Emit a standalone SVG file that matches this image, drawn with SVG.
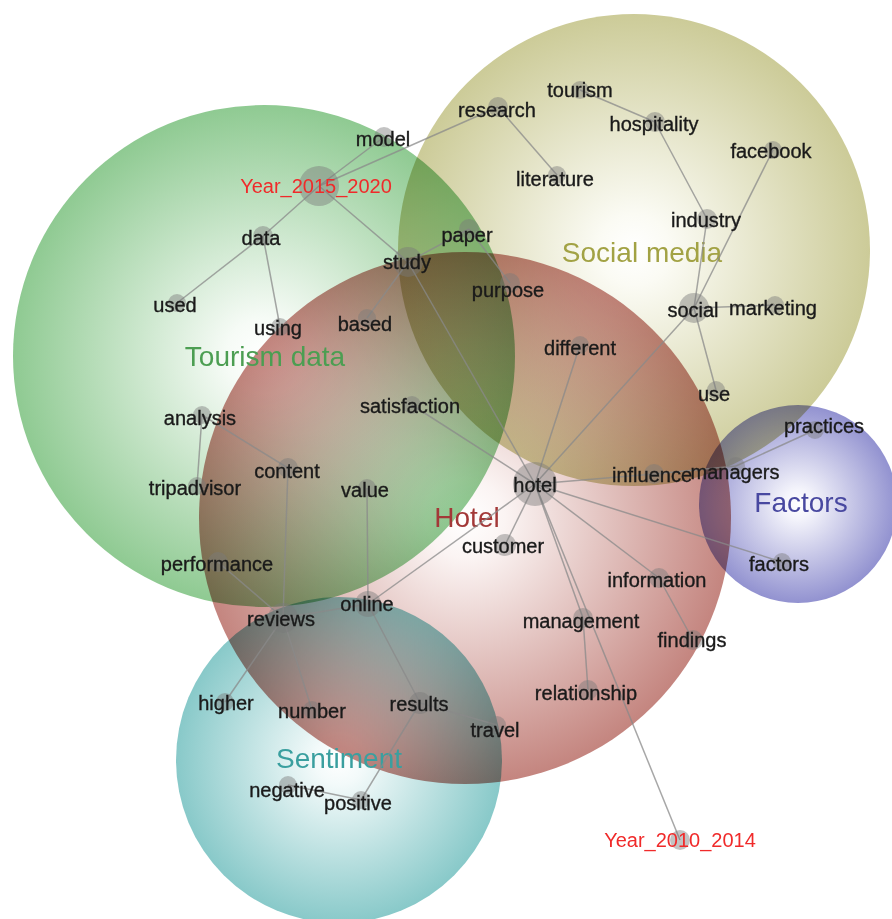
<svg xmlns="http://www.w3.org/2000/svg" width="892" height="919" viewBox="0 0 892 919">
<defs>
<radialGradient id="gGreen"><stop offset="0" stop-color="#ffffff"/><stop offset="0.15" stop-color="#f6fbf6"/><stop offset="1" stop-color="#8fca92"/></radialGradient>
<radialGradient id="gOlive"><stop offset="0" stop-color="#ffffff"/><stop offset="0.15" stop-color="#fbfbf4"/><stop offset="1" stop-color="#cccb98"/></radialGradient>
<radialGradient id="gRed"><stop offset="0" stop-color="#ffffff"/><stop offset="0.15" stop-color="#fbf4f3"/><stop offset="1" stop-color="#c4857f"/></radialGradient>
<radialGradient id="gTeal"><stop offset="0" stop-color="#ffffff"/><stop offset="0.15" stop-color="#f3fafa"/><stop offset="1" stop-color="#88c9c9"/></radialGradient>
<radialGradient id="gBlue"><stop offset="0" stop-color="#ffffff"/><stop offset="0.15" stop-color="#f4f4fb"/><stop offset="1" stop-color="#9292d0"/></radialGradient>
<style>
.cl{mix-blend-mode:multiply}
.e line{stroke:#8a8a8a;stroke-width:1.5;stroke-opacity:0.75}
.n circle{fill:#7a7a7a;fill-opacity:0.45}
.n text{font-family:"Liberation Sans",Arial,sans-serif;font-size:20px;fill:#1a1a1a;stroke:#1a1a1a;stroke-width:0.35;text-anchor:middle}
.n text.yr{fill:#f02a2a;stroke:none;font-size:20px}
.g{font-family:"Liberation Sans",Arial,sans-serif;font-size:28px;text-anchor:middle}
</style>
</defs>
<rect width="892" height="919" fill="#ffffff"/>
<g id="clusters">
<circle class="cl" cx="264" cy="356" r="251" fill="url(#gGreen)"/>
<circle class="cl" cx="634" cy="250" r="236" fill="url(#gOlive)"/>
<circle class="cl" cx="465" cy="518" r="266" fill="url(#gRed)"/>
<circle class="cl" cx="339" cy="760" r="163" fill="url(#gTeal)"/>
<circle class="cl" cx="798" cy="504" r="99" fill="url(#gBlue)"/>
</g>
<g id="cluster-labels">
<text class="g" x="265" y="366" fill="#4c9e52">Tourism data</text>
<text class="g" x="642" y="262" fill="#a2a244">Social media</text>
<text class="g" x="467" y="527" fill="#a33838">Hotel</text>
<text class="g" x="801" y="512" fill="#4848a0">Factors</text>
<text class="g" x="339" y="768" fill="#3a9f9f">Sentiment</text>
</g>
<g id="connectors" class="e">
<line x1="319" y1="186" x2="384" y2="137"/>
<line x1="319" y1="186" x2="498" y2="107"/>
<line x1="319" y1="186" x2="263" y2="236"/>
<line x1="319" y1="186" x2="408" y2="262"/>
<line x1="498" y1="107" x2="557" y2="175"/>
<line x1="580" y1="90" x2="655" y2="122"/>
<line x1="655" y1="122" x2="707" y2="219"/>
<line x1="707" y1="219" x2="694" y2="308"/>
<line x1="773" y1="150" x2="694" y2="308"/>
<line x1="694" y1="308" x2="775" y2="305"/>
<line x1="694" y1="308" x2="716" y2="390"/>
<line x1="694" y1="308" x2="535" y2="484"/>
<line x1="263" y1="236" x2="177" y2="303"/>
<line x1="263" y1="236" x2="280" y2="327"/>
<line x1="408" y1="262" x2="469" y2="229"/>
<line x1="469" y1="229" x2="510" y2="283"/>
<line x1="408" y1="262" x2="367" y2="318"/>
<line x1="408" y1="262" x2="535" y2="484"/>
<line x1="412" y1="405" x2="535" y2="484"/>
<line x1="580" y1="345" x2="535" y2="484"/>
<line x1="535" y1="484" x2="654" y2="474"/>
<line x1="654" y1="474" x2="736" y2="466"/>
<line x1="736" y1="466" x2="815" y2="430"/>
<line x1="535" y1="484" x2="782" y2="562"/>
<line x1="535" y1="484" x2="659" y2="578"/>
<line x1="659" y1="578" x2="693" y2="640"/>
<line x1="535" y1="484" x2="583" y2="618"/>
<line x1="583" y1="618" x2="588" y2="690"/>
<line x1="535" y1="484" x2="680" y2="840"/>
<line x1="535" y1="484" x2="505" y2="545"/>
<line x1="535" y1="484" x2="368" y2="604"/>
<line x1="367" y1="488" x2="368" y2="604"/>
<line x1="288" y1="468" x2="283" y2="618"/>
<line x1="202" y1="415" x2="288" y2="468"/>
<line x1="202" y1="415" x2="197" y2="486"/>
<line x1="218" y1="562" x2="283" y2="618"/>
<line x1="283" y1="618" x2="368" y2="604"/>
<line x1="283" y1="618" x2="225" y2="702"/>
<line x1="283" y1="618" x2="312" y2="710"/>
<line x1="368" y1="604" x2="420" y2="703"/>
<line x1="420" y1="703" x2="497" y2="725"/>
<line x1="420" y1="703" x2="361" y2="800"/>
<line x1="288" y1="785" x2="361" y2="800"/>
</g>
<g id="n-year2015" class="n"><circle cx="319" cy="186" r="20"/><text class="yr" x="316" y="193">Year_2015_2020</text></g>
<g id="n-model" class="n"><circle cx="384" cy="137" r="10"/><text x="383" y="146">model</text></g>
<g id="n-research" class="n"><circle cx="498" cy="107" r="10"/><text x="497" y="117">research</text></g>
<g id="n-data" class="n"><circle cx="263" cy="236" r="10"/><text x="261" y="245">data</text></g>
<g id="n-used" class="n"><circle cx="177" cy="303" r="9"/><text x="175" y="312">used</text></g>
<g id="n-using" class="n"><circle cx="280" cy="327" r="9"/><text x="278" y="335">using</text></g>
<g id="n-study" class="n"><circle cx="408" cy="262" r="15"/><text x="407" y="269">study</text></g>
<g id="n-paper" class="n"><circle cx="469" cy="229" r="10"/><text x="467" y="242">paper</text></g>
<g id="n-purpose" class="n"><circle cx="510" cy="283" r="10"/><text x="508" y="297">purpose</text></g>
<g id="n-based" class="n"><circle cx="367" cy="318" r="9"/><text x="365" y="331">based</text></g>
<g id="n-tourism" class="n"><circle cx="580" cy="90" r="9"/><text x="580" y="97">tourism</text></g>
<g id="n-hospitality" class="n"><circle cx="655" cy="122" r="10"/><text x="654" y="131">hospitality</text></g>
<g id="n-literature" class="n"><circle cx="557" cy="175" r="9"/><text x="555" y="186">literature</text></g>
<g id="n-facebook" class="n"><circle cx="773" cy="150" r="9"/><text x="771" y="158">facebook</text></g>
<g id="n-industry" class="n"><circle cx="707" cy="219" r="10"/><text x="706" y="227">industry</text></g>
<g id="n-social" class="n"><circle cx="694" cy="308" r="15"/><text x="693" y="317">social</text></g>
<g id="n-marketing" class="n"><circle cx="775" cy="305" r="9"/><text x="773" y="315">marketing</text></g>
<g id="n-different" class="n"><circle cx="580" cy="345" r="9"/><text x="580" y="355">different</text></g>
<g id="n-use" class="n"><circle cx="716" cy="390" r="9"/><text x="714" y="401">use</text></g>
<g id="n-satisfaction" class="n"><circle cx="412" cy="405" r="9"/><text x="410" y="413">satisfaction</text></g>
<g id="n-analysis" class="n"><circle cx="202" cy="415" r="9"/><text x="200" y="425">analysis</text></g>
<g id="n-content" class="n"><circle cx="288" cy="468" r="10"/><text x="287" y="478">content</text></g>
<g id="n-tripadvisor" class="n"><circle cx="197" cy="486" r="9"/><text x="195" y="495">tripadvisor</text></g>
<g id="n-value" class="n"><circle cx="367" cy="488" r="9"/><text x="365" y="497">value</text></g>
<g id="n-hotel" class="n"><circle cx="535" cy="484" r="22"/><text x="535" y="492">hotel</text></g>
<g id="n-customer" class="n"><circle cx="505" cy="545" r="11"/><text x="503" y="553">customer</text></g>
<g id="n-performance" class="n"><circle cx="218" cy="562" r="10"/><text x="217" y="571">performance</text></g>
<g id="n-online" class="n"><circle cx="368" cy="604" r="13"/><text x="367" y="611">online</text></g>
<g id="n-reviews" class="n"><circle cx="283" cy="618" r="15"/><text x="281" y="626">reviews</text></g>
<g id="n-higher" class="n"><circle cx="225" cy="702" r="9"/><text x="226" y="710">higher</text></g>
<g id="n-number" class="n"><circle cx="312" cy="710" r="9"/><text x="312" y="718">number</text></g>
<g id="n-results" class="n"><circle cx="420" cy="703" r="11"/><text x="419" y="711">results</text></g>
<g id="n-travel" class="n"><circle cx="497" cy="725" r="9"/><text x="495" y="737">travel</text></g>
<g id="n-negative" class="n"><circle cx="288" cy="785" r="9"/><text x="287" y="797">negative</text></g>
<g id="n-positive" class="n"><circle cx="361" cy="800" r="9"/><text x="358" y="810">positive</text></g>
<g id="n-influence" class="n"><circle cx="654" cy="474" r="10"/><text x="652" y="482">influence</text></g>
<g id="n-managers" class="n"><circle cx="736" cy="466" r="9"/><text x="735" y="479">managers</text></g>
<g id="n-practices" class="n"><circle cx="815" cy="430" r="9"/><text x="824" y="433">practices</text></g>
<g id="n-factors" class="n"><circle cx="782" cy="562" r="9"/><text x="779" y="571">factors</text></g>
<g id="n-information" class="n"><circle cx="659" cy="578" r="10"/><text x="657" y="587">information</text></g>
<g id="n-management" class="n"><circle cx="583" cy="618" r="10"/><text x="581" y="628">management</text></g>
<g id="n-findings" class="n"><circle cx="693" cy="640" r="10"/><text x="692" y="647">findings</text></g>
<g id="n-relationship" class="n"><circle cx="588" cy="690" r="10"/><text x="586" y="700">relationship</text></g>
<g id="n-year2010" class="n"><circle cx="680" cy="840" r="10"/><text class="yr" x="680" y="847">Year_2010_2014</text></g>
</svg>
